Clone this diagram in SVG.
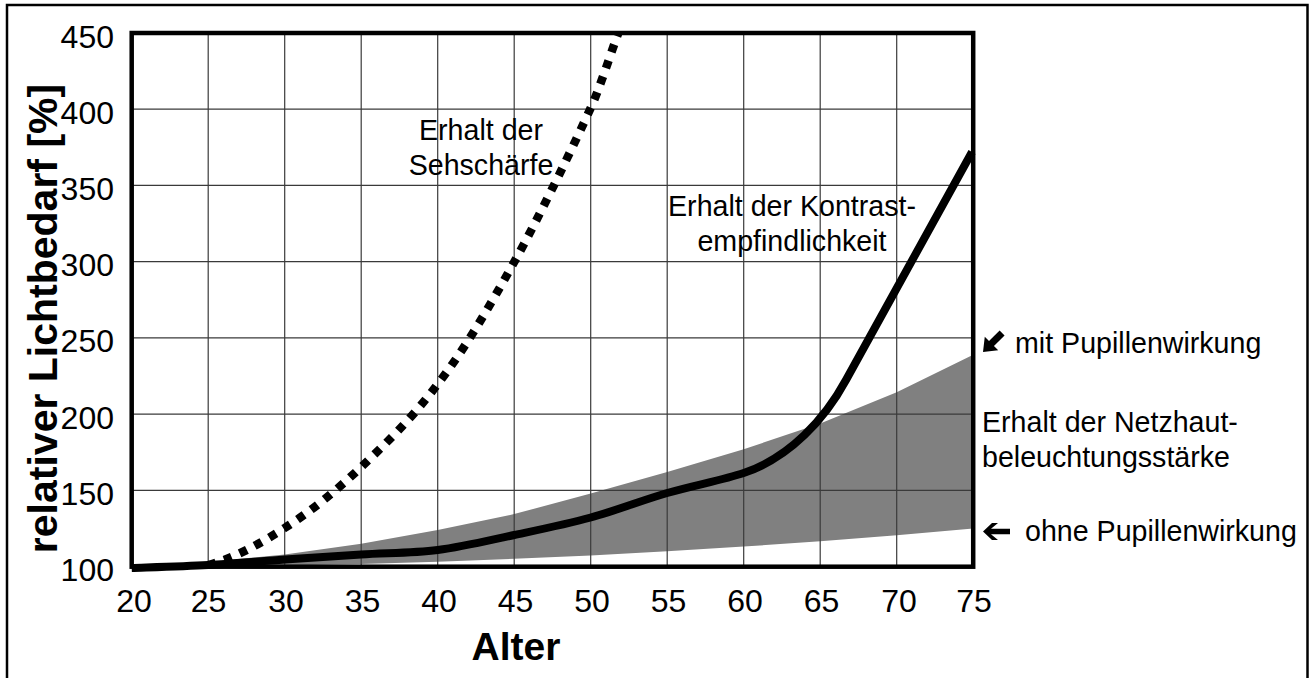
<svg xmlns="http://www.w3.org/2000/svg" width="1309" height="678" viewBox="0 0 1309 678">
<style>
text{font-family:"Liberation Sans",Arial,sans-serif;fill:#000}
.tick{font-size:32px}
.ytick{text-anchor:end}
.xtick{text-anchor:middle}
.lbl{font-size:28.6px}
.grid line{stroke:#3a3a3a;stroke-width:1.2}
</style>
<rect x="7" y="5" width="1300.5" height="690" fill="#fff" stroke="#000" stroke-width="2.5"/>
<g id="band">
<polygon fill="#808080" points="131.7,566.7 208.2,562.1 284.7,554.5 361.2,543.8 437.7,530.1 514.2,514.1 590.7,493.5 667.2,472 743.7,449.3 820.2,423.4 896.7,392.2 973.2,354.8 973.2,528.6 896.7,535.2 820.2,541.2 743.7,546.6 667.2,551.3 590.7,555.4 514.2,558.8 437.7,561.7 361.2,563.9 284.7,565.4 208.2,566.4"/>
</g>
<g id="grid" class="grid">
<line x1="208.2" y1="33" x2="208.2" y2="566.7"/>
<line x1="284.7" y1="33" x2="284.7" y2="566.7"/>
<line x1="361.2" y1="33" x2="361.2" y2="566.7"/>
<line x1="437.7" y1="33" x2="437.7" y2="566.7"/>
<line x1="514.2" y1="33" x2="514.2" y2="566.7"/>
<line x1="590.7" y1="33" x2="590.7" y2="566.7"/>
<line x1="667.2" y1="33" x2="667.2" y2="566.7"/>
<line x1="743.7" y1="33" x2="743.7" y2="566.7"/>
<line x1="820.2" y1="33" x2="820.2" y2="566.7"/>
<line x1="896.7" y1="33" x2="896.7" y2="566.7"/>
<line x1="131.7" y1="109.2" x2="973.2" y2="109.2"/>
<line x1="131.7" y1="185.4" x2="973.2" y2="185.4"/>
<line x1="131.7" y1="261.6" x2="973.2" y2="261.6"/>
<line x1="131.7" y1="337.9" x2="973.2" y2="337.9"/>
<line x1="131.7" y1="414.1" x2="973.2" y2="414.1"/>
<line x1="131.7" y1="490.4" x2="973.2" y2="490.4"/>
</g>
<g id="connectors" fill="none" stroke="#000">
<path id="sehschaerfe" stroke-width="8.5" stroke-dasharray="8 8.8" d="M208.2,565 C233.7,558.3 259.2,544.3 284.7,528 C310.2,511.7 335.7,491.3 361.2,467 C386.7,442.7 412.2,418.2 437.7,384 C463.2,351.5 488.7,308 514.2,262 C539.7,216 573.35,146.2 590.7,108 C599.9,87.7 609.1,58 618.3,33"/>
<path id="kontrast" stroke-width="8" stroke-linejoin="round" d="M131.7,568 C144.4,567.5 182.5,566.4 208,565 C233.5,563.6 259.2,561.25 284.7,559.5 C310.2,557.75 335.7,556.1 361.2,554.5 C386.7,552.9 412.2,553.25 437.7,550 C463.2,546.75 488.7,540.4 514.2,535 C539.7,529.6 565.2,524.5 590.7,517.5 C616.2,510.5 641.7,500.4 667.2,493 C692.7,485.6 723.2,479.85 743.7,473 C790,457.5 825,418.7 846,380 L972,152"/>
</g>
<rect id="plotframe" x="131.7" y="33" width="841.5" height="533.7" fill="none" stroke="#000" stroke-width="4.5"/>
<g id="yticks" class="tick ytick">
<text x="114" y="47.5">450</text>
<text x="114" y="123.7">400</text>
<text x="114" y="199.9">350</text>
<text x="114" y="276.1">300</text>
<text x="114" y="352.4">250</text>
<text x="114" y="428.6">200</text>
<text x="114" y="504.9">150</text>
<text x="114" y="581.2">100</text>
</g>
<g id="xticks" class="tick xtick">
<text x="134" y="612">20</text>
<text x="208.5" y="612">25</text>
<text x="286" y="612">30</text>
<text x="362.5" y="612">35</text>
<text x="439" y="612">40</text>
<text x="515.5" y="612">45</text>
<text x="592" y="612">50</text>
<text x="668.5" y="612">55</text>
<text x="745" y="612">60</text>
<text x="821.5" y="612">65</text>
<text x="899" y="612">70</text>
<text x="974" y="612">75</text>
</g>
<g id="xlabel"><text x="516" y="660" text-anchor="middle" font-weight="bold" font-size="39">Alter</text></g>
<g id="ylabel"><text transform="translate(57,318.5) rotate(-90)" text-anchor="middle" font-weight="bold" font-size="41">relativer Lichtbedarf [%]</text></g>
<g id="label-sehschaerfe" class="lbl">
<text x="481" y="140" text-anchor="middle">Erhalt der</text>
<text x="481" y="175" text-anchor="middle">Sehschärfe</text>
</g>
<g id="label-kontrast" class="lbl">
<text x="792" y="216" text-anchor="middle">Erhalt der Kontrast-</text>
<text x="792" y="251" text-anchor="middle">empfindlichkeit</text>
</g>
<g id="label-mit">
<path transform="translate(983,352) rotate(-45)" d="M0,0 L12,-9.5 L12,-3.5 L27,-3.5 L27,3.5 L12,3.5 L12,9.5 Z" fill="#000"/>
<text class="lbl" x="1015" y="353">mit Pupillenwirkung</text>
</g>
<g id="label-netzhaut" class="lbl">
<text x="982" y="431.5">Erhalt der Netzhaut-</text>
<text x="982" y="466.5">beleuchtungsstärke</text>
</g>
<g id="label-ohne">
<path transform="translate(983,531.5)" d="M0,0 L9,-8.5 L15,-8.5 L8,-2.8 L27,-2.8 L27,2.8 L8,2.8 L15,8.5 L9,8.5 Z" fill="#000"/>
<text class="lbl" x="1025" y="541">ohne Pupillenwirkung</text>
</g>
</svg>
